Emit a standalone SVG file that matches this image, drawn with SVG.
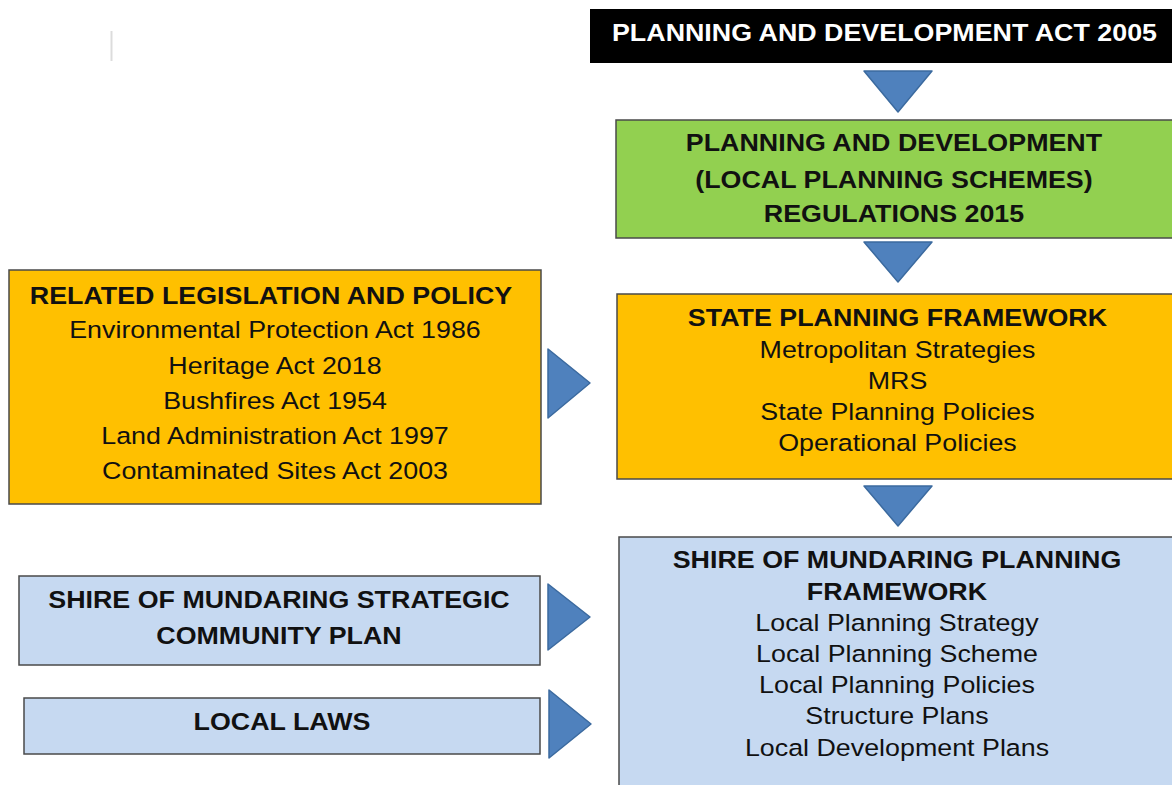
<svg xmlns="http://www.w3.org/2000/svg" width="1172" height="785" viewBox="0 0 1172 785">
  <style>
    .box { stroke: #4a4a4a; stroke-width: 1.5; }
    .orange { fill: #FFC000; }
    .green { fill: #92D050; }
    .blue { fill: #C6D9F1; }
    .t { font-family: "Liberation Sans", Arial, sans-serif; font-size: 24.5px; fill: #111; text-anchor: middle;
         transform-box: fill-box; transform-origin: center; transform: scaleX(1.095); }
    .b { font-weight: bold; }
    .w { fill: #ffffff; }
    .arr { fill: #4F81BD; stroke: #3B6A9F; stroke-width: 1.5; stroke-linejoin: round; }
  </style>
  <rect width="1172" height="785" fill="#ffffff"/>
  <line x1="111.5" y1="31" x2="111.5" y2="61" stroke="#dcdcdc" stroke-width="2"/>

  <g id="act2005">
    <rect x="590" y="9" width="590" height="54" fill="#000000"/>
    <text class="t b w" x="884.5" y="41">PLANNING AND DEVELOPMENT ACT 2005</text>
  </g>

  <g id="regulations">
    <rect class="box green" x="616" y="120" width="570" height="118"/>
    <text class="t b" x="894" y="151">PLANNING AND DEVELOPMENT</text>
    <text class="t b" x="894" y="188">(LOCAL PLANNING SCHEMES)</text>
    <text class="t b" x="894" y="222">REGULATIONS 2015</text>
  </g>

  <g id="state-framework">
    <rect class="box orange" x="617" y="294" width="570" height="185"/>
    <text class="t b" x="897.5" y="326">STATE PLANNING FRAMEWORK</text>
    <text class="t" x="897.5" y="358">Metropolitan Strategies</text>
    <text class="t" x="897.5" y="389">MRS</text>
    <text class="t" x="897.5" y="420">State Planning Policies</text>
    <text class="t" x="897.5" y="451">Operational Policies</text>
  </g>

  <g id="shire-framework">
    <rect class="box blue" x="619" y="537" width="570" height="260"/>
    <text class="t b" x="897" y="568">SHIRE OF MUNDARING PLANNING</text>
    <text class="t b" x="897" y="600">FRAMEWORK</text>
    <text class="t" x="897" y="631">Local Planning Strategy</text>
    <text class="t" x="897" y="662">Local Planning Scheme</text>
    <text class="t" x="897" y="693">Local Planning Policies</text>
    <text class="t" x="897" y="724">Structure Plans</text>
    <text class="t" x="897" y="756">Local Development Plans</text>
  </g>

  <g id="related-legislation">
    <rect class="box orange" x="9" y="270" width="532" height="234"/>
    <text class="t b" x="271" y="304">RELATED LEGISLATION AND POLICY</text>
    <text class="t" x="275" y="338">Environmental Protection Act 1986</text>
    <text class="t" x="275" y="374">Heritage Act 2018</text>
    <text class="t" x="275" y="409">Bushfires Act 1954</text>
    <text class="t" x="275" y="444">Land Administration Act 1997</text>
    <text class="t" x="275" y="479">Contaminated Sites Act 2003</text>
  </g>

  <g id="strategic-plan">
    <rect class="box blue" x="19" y="576" width="521" height="89"/>
    <text class="t b" x="279" y="608">SHIRE OF MUNDARING STRATEGIC</text>
    <text class="t b" x="279" y="644">COMMUNITY PLAN</text>
  </g>

  <g id="local-laws">
    <rect class="box blue" x="24" y="698" width="516" height="56"/>
    <text class="t b" x="282" y="730">LOCAL LAWS</text>
  </g>

  <g id="connectors">
    <polygon class="arr" points="864,71 932,71 898,112"/>
    <polygon class="arr" points="864,242 932,242 898,282"/>
    <polygon class="arr" points="864,486 932,486 898,526"/>
    <polygon class="arr" points="548,349 548,418 590,383"/>
    <polygon class="arr" points="548,584 548,650 590,617"/>
    <polygon class="arr" points="549,690 549,758 591,724"/>
  </g>
</svg>
